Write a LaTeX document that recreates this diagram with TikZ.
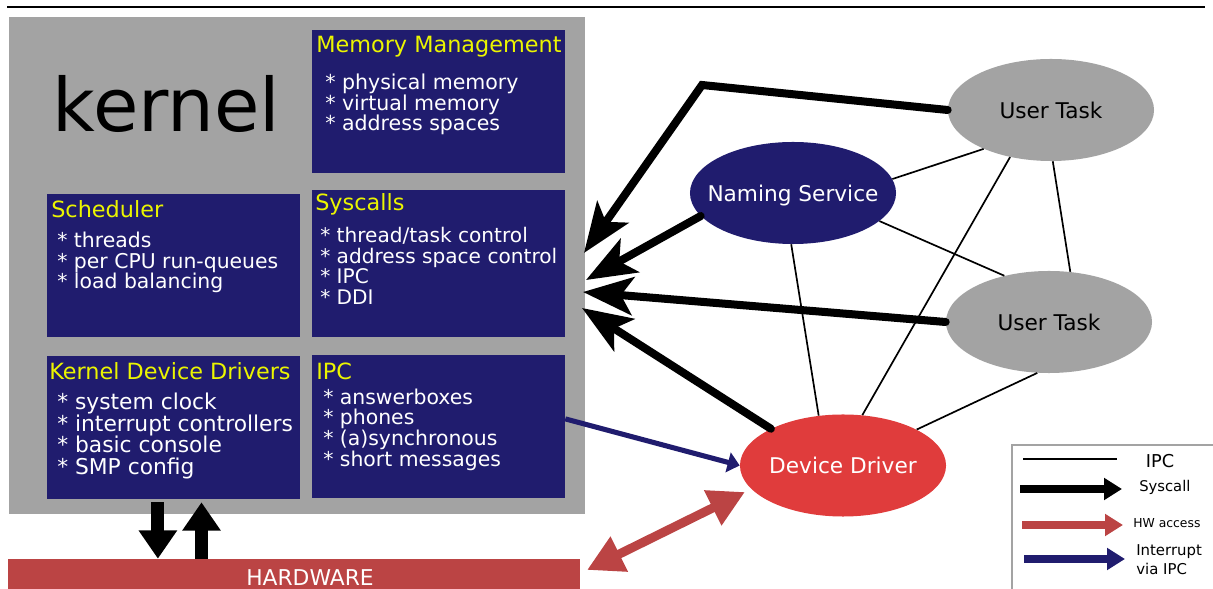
\documentclass[tikz,border=0pt]{standalone}
\usepackage{fontspec}
\setmainfont{DejaVu Sans}
\usetikzlibrary{arrows.meta,shapes.geometric}
\definecolor{navybox}{RGB}{32,28,110}
\definecolor{kgray}{RGB}{163,163,163}
\definecolor{ddred}{RGB}{224,60,60}
\definecolor{hwred}{RGB}{187,68,68}
\definecolor{ttlyellow}{RGB}{235,245,0}
\newcommand{\ctext}[1]{\makebox[0pt]{#1}}

\begin{document}
\begin{tikzpicture}[x=0.025cm,y=-0.025cm,
  subsys/.style={fill=navybox, inner sep=0pt, minimum width=6.325cm, minimum height=3.575cm},
  subtitle/.style={anchor=west, inner sep=0pt, text=ttlyellow, font=\fontsize{15.9}{18}\selectfont},
  sublist/.style={anchor=west, inner sep=0pt, text=white, align=left, font=\fontsize{#1}{14.7}\selectfont},
  sublist/.default=14.5,
  task/.style={ellipse, inner sep=0pt, text depth=0pt, minimum width=5.15cm, minimum height=2.55cm, font=\fontsize{15.4}{18}\selectfont},
  ipcline/.style={line width=1.2pt},
  syscall/.style={line width=5.7pt, line cap=round, -{Stealth[length=1.25cm,width=0.95cm,inset=0.3cm]}},
  irq/.style={navybox, line width=3.6pt, -{Triangle[length=0.3cm,width=0.5cm]}},
  hwacc/.style={hwred, line width=6.4pt, {Triangle[length=0.9cm,width=0.92cm]}-{Triangle[length=0.9cm,width=0.92cm]}},
  busarrow/.style={line width=9.2pt, -{Triangle[length=0.71cm,width=0.92cm]}},
  legarrow/.style={line width=5pt, -{Triangle[length=0.45cm,width=0.53cm]}}]
  \useasboundingbox (0,0) rectangle (1213,589);
  \clip (0,0) rectangle (1213,589);
  \draw[line width=1.4pt] (7,7) -- (1205,7);

  % kernel and its subsystems
  \node[fill=kgray, inner sep=0pt, minimum width=14.4cm, minimum height=12.425cm] (kernel) at (297,265.5) {};
  \node[anchor=base, inner sep=0pt, font=\fontsize{52.5}{60}\selectfont] (klabel) at (166.5,132) {kernel};

  \node[subsys] (mem) at (438.5,101.5) {};
  \node[subtitle] (memtitle) at (316,47) {Memory Management};
  \node[sublist=14.6] (memlist) at (325,104.5) {* physical memory\\* virtual memory\\* address spaces};

  \node[subsys] (sched) at (173.5,265.5) {};
  \node[subtitle] (schedtitle) at (51,209) {Scheduler};
  \node[sublist] (schedlist) at (57,262.5) {* threads\\* per CPU run-queues\\* load balancing};

  \node[subsys, minimum height=3.675cm] (sys) at (438.5,263.5) {};
  \node[subtitle] (systitle) at (315,204) {Syscalls};
  \node[sublist=14.3] (syslist) at (320,266) {* thread/task control\\* address space control\\* IPC\\* DDI};

  \node[subsys] (kdd) at (173.5,427.5) {};
  \node[subtitle] (kddtitle) at (49,371) {Kernel Device Drivers};
  \node[sublist=15.5, font=\fontsize{15.5}{15.2}\selectfont] (kddlist) at (57,436) {* system clock\\* interrupt controllers\\* basic console\\* SMP config};

  \node[subsys] (ipc) at (438.5,426.5) {};
  \node[subtitle] (ipctitle) at (316,371) {IPC};
  \node[sublist] (ipclist) at (323,429.5) {* answerboxes\\* phones\\* (a)synchronous\\* short messages};

  % hardware
  \node[fill=hwred, inner sep=0pt, minimum width=14.3cm, minimum height=1.025cm] (hw) at (294,579.5) {};
  \node[inner sep=0pt, text=white, font=\fontsize{15.5}{18}\selectfont] (hwlabel) at (310,578) {HARDWARE};
  \draw[busarrow] ([xshift=-0.39cm,yshift=-0.075cm]kdd.south) -- ([xshift=-0.39cm]kdd.south |- hw.north);
  \draw[busarrow] ([xshift=0.7cm]kdd.south |- hw.north) -- ([xshift=0.7cm,yshift=-0.075cm]kdd.south);

  % user space tasks
  \node[task, fill=kgray] (utask1) at (1051,110) {\ctext{User Task}};
  \node[task, fill=kgray] (utask2) at (1049,322) {\ctext{User Task}};
  \node[task, fill=navybox, text=white] (naming) at (793,193) {\ctext{Naming Service}};
  \node[task, fill=ddred, text=white] (driver) at (843,465.5) {\ctext{Device Driver}};

  \draw[ipcline] (naming.8) -- (utask1.210);
  \draw[ipcline] (naming.342) -- (utask2.134);
  \draw[ipcline] (naming.268) -- (driver.116);
  \draw[ipcline] (utask1.229) -- (driver.69);
  \draw[ipcline] (utask1.272) -- (utask2.67);
  \draw[ipcline] (utask2.257) -- (driver.26);

  \coordinate (bend) at (702,85);
  \coordinate (sc1) at (584,253);
  \coordinate (sc2) at (586,280);
  \coordinate (sc3) at (583,292);
  \coordinate (sc4) at (582,308);
  \draw[syscall] (utask1.west) -- (bend) -- (sc1);
  \draw[syscall] (naming.194) -- (sc2);
  \draw[syscall] (utask2.west) -- (sc3);
  \draw[syscall] (driver.153) -- (sc4);

  \draw[irq] ([yshift=0.19cm]ipc.east) -- (driver.west);
  \coordinate (hwtip) at (587,570);
  \coordinate (drvtip) at (745,492);
  \draw[hwacc] (hwtip) -- (drvtip);

  % legend
  \draw[kgray, line width=2.1pt] (1012,445) rectangle (1225,600);
  \draw[ipcline] (1023,459) -- (1117,459);
  \node[inner sep=0pt, font=\fontsize{12.6}{14}\selectfont] (legipc) at (1160,461.5) {IPC};
  \draw[legarrow] (1020,489) -- (1122,489);
  \node[anchor=west, inner sep=0pt, font=\fontsize{10.5}{12}\selectfont] (legsys) at (1139,487) {Syscall};
  \draw[legarrow, hwred] (1022,525) -- (1123,525);
  \node[anchor=west, inner sep=0pt, font=\fontsize{8.8}{10}\selectfont] (leghw) at (1133,523) {HW access};
  \draw[legarrow, navybox] (1024,559) -- (1125,559);
  \node[anchor=west, inner sep=0pt, align=left, font=\fontsize{10.6}{13.7}\selectfont] (legirq) at (1136,559.5) {Interrupt\\via IPC};
\end{tikzpicture}
\end{document}
